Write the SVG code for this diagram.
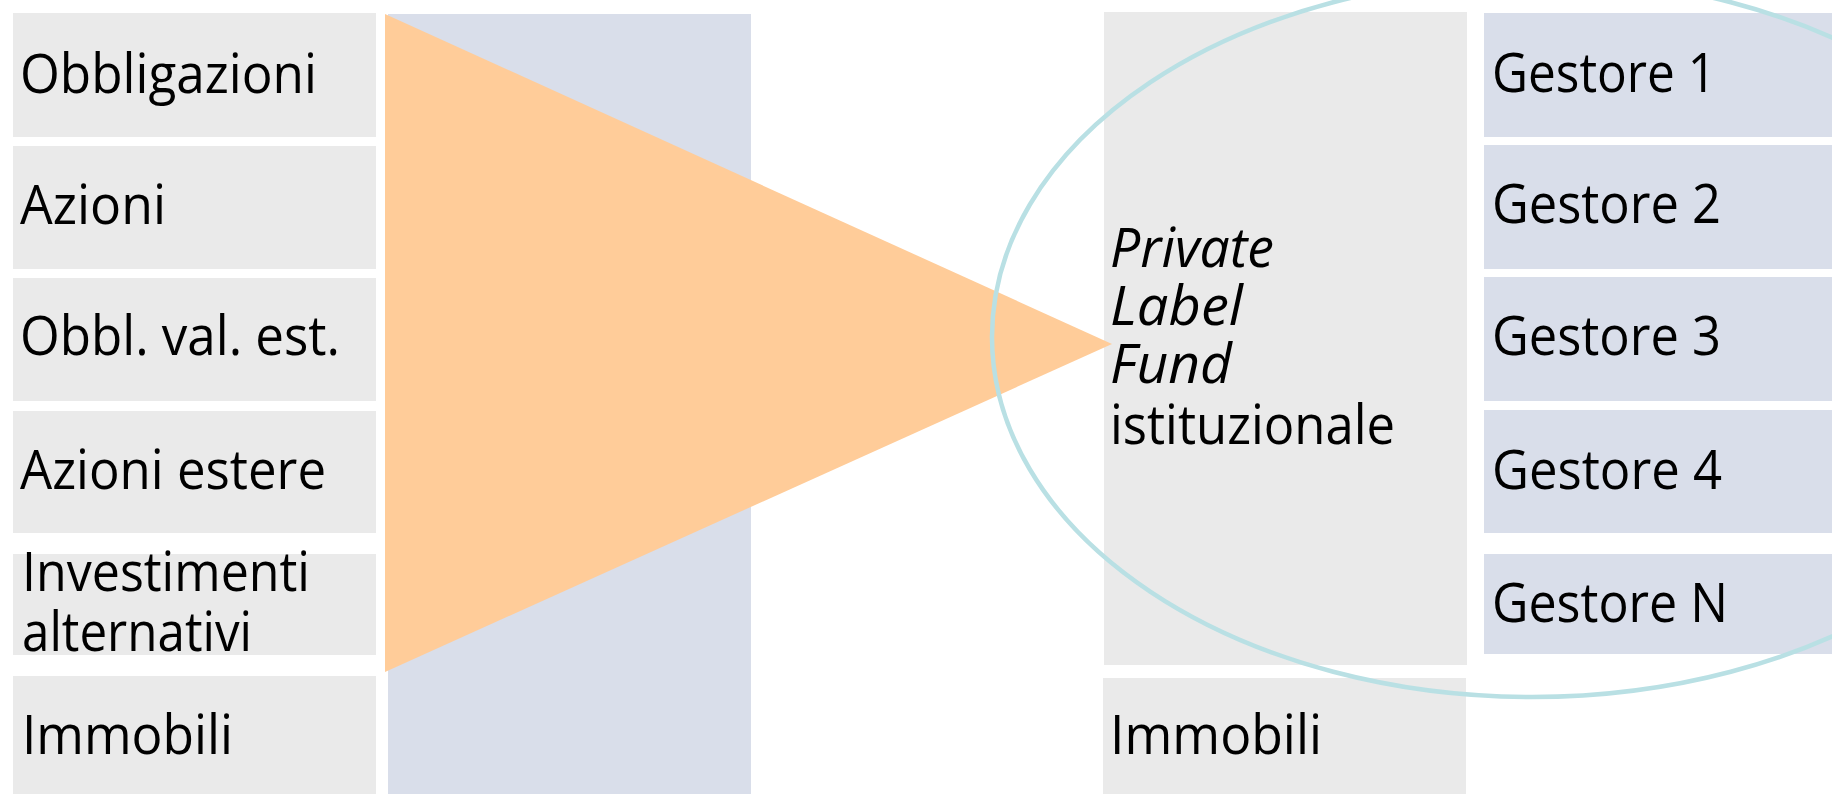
<svg xmlns="http://www.w3.org/2000/svg" width="1832" height="794" viewBox="0 0 1832 794">
  <style>
    .gray { fill: #EAEAEA; }
    .blue { fill: #D9DEEA; }
    .lbl { font-family: "Open Sans", "Liberation Sans", sans-serif; font-size: 54px; fill: #000000; }
    .it { font-style: italic; }
  </style>
  <rect width="1832" height="794" fill="#FFFFFF"/>

  <!-- left asset classes -->
  <g id="col-blue"><rect class="blue" x="388" y="14" width="363" height="780"/></g>
  <g id="n-obbligazioni"><rect class="gray" x="13" y="13" width="363" height="124"/>
    <text class="lbl" x="20" y="93" textLength="297" lengthAdjust="spacingAndGlyphs">Obbligazioni</text></g>
  <g id="n-azioni"><rect class="gray" x="13" y="146" width="363" height="123"/>
    <text class="lbl" x="20" y="224" textLength="146" lengthAdjust="spacingAndGlyphs">Azioni</text></g>
  <g id="n-obbl-est"><rect class="gray" x="13" y="278" width="363" height="123"/>
    <text class="lbl" x="20" y="355" textLength="320" lengthAdjust="spacingAndGlyphs">Obbl. val. est.</text></g>
  <g id="n-azioni-est"><rect class="gray" x="13" y="411" width="363" height="122"/>
    <text class="lbl" x="20" y="489" textLength="306" lengthAdjust="spacingAndGlyphs">Azioni estere</text></g>
  <g id="n-alternativi"><rect class="gray" x="13" y="554" width="363" height="101"/>
    <text class="lbl" x="22" y="591" textLength="288" lengthAdjust="spacingAndGlyphs">Investimenti</text>
    <text class="lbl" x="22" y="651" textLength="230" lengthAdjust="spacingAndGlyphs">alternativi</text></g>
  <g id="n-immobili-l"><rect class="gray" x="13" y="676" width="363" height="118"/>
    <text class="lbl" x="22" y="754" textLength="211" lengthAdjust="spacingAndGlyphs">Immobili</text></g>

  <!-- right side -->
  <g id="n-plf"><rect class="gray" x="1104" y="12" width="363" height="653"/>
    <text class="lbl it" x="1110" y="267" textLength="164" lengthAdjust="spacingAndGlyphs">Private</text>
    <text class="lbl it" x="1110" y="325" textLength="133" lengthAdjust="spacingAndGlyphs">Label</text>
    <text class="lbl it" x="1110" y="383" textLength="122" lengthAdjust="spacingAndGlyphs">Fund</text>
    <text class="lbl" x="1110" y="444" textLength="285" lengthAdjust="spacingAndGlyphs">istituzionale</text></g>
  <g id="n-immobili-r"><rect class="gray" x="1103" y="678" width="363" height="116"/>
    <text class="lbl" x="1110" y="754" textLength="212" lengthAdjust="spacingAndGlyphs">Immobili</text></g>
  <g id="n-gestore1"><rect class="blue" x="1484" y="13" width="348" height="124"/>
    <text class="lbl" x="1492" y="92" textLength="224" lengthAdjust="spacingAndGlyphs">Gestore 1</text></g>
  <g id="n-gestore2"><rect class="blue" x="1484" y="145" width="348" height="124"/>
    <text class="lbl" x="1492" y="223" textLength="229" lengthAdjust="spacingAndGlyphs">Gestore 2</text></g>
  <g id="n-gestore3"><rect class="blue" x="1484" y="277" width="348" height="124"/>
    <text class="lbl" x="1492" y="355" textLength="229" lengthAdjust="spacingAndGlyphs">Gestore 3</text></g>
  <g id="n-gestore4"><rect class="blue" x="1484" y="410" width="348" height="123"/>
    <text class="lbl" x="1492" y="489" textLength="230" lengthAdjust="spacingAndGlyphs">Gestore 4</text></g>
  <g id="n-gestoreN"><rect class="blue" x="1484" y="554" width="348" height="100"/>
    <text class="lbl" x="1492" y="622" textLength="236" lengthAdjust="spacingAndGlyphs">Gestore N</text></g>

  <!-- connectors / shapes -->
  <g id="connectors">
    <polygon id="funnel" points="385,14 385,672 1112,344" fill="#FFCC99"/>
    <ellipse id="scope" cx="1532" cy="337" rx="540" ry="360" fill="none" stroke="#B9E0E4" stroke-width="4.5"/>
  </g>
</svg>
